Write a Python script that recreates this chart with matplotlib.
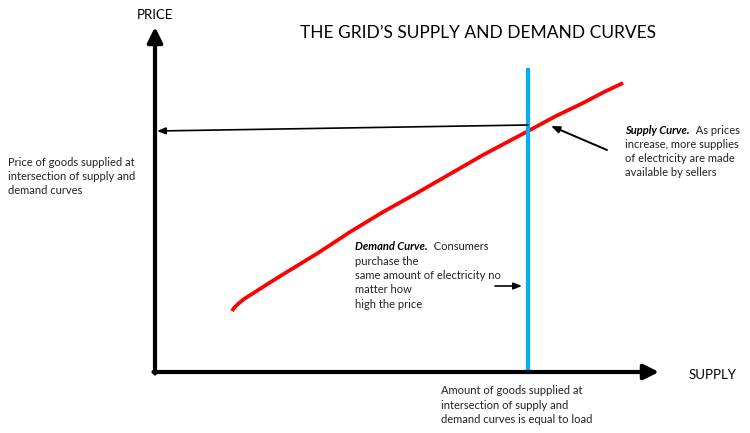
import numpy as np
import matplotlib
matplotlib.use("Agg")
import matplotlib.pyplot as plt

plt.rcParams['font.family'] = ['Lato', 'DejaVu Sans']

# supply curve, traced in picture units (x right, y down)
supply_x = [232, 234, 238, 244, 252, 266, 282, 300, 318, 350, 383, 417, 450, 483, 530, 556, 583, 604, 623]
supply_y = [311, 308, 304, 299, 294, 285, 275, 264, 253, 232, 212, 193, 174, 155, 130, 116, 103, 92, 83]

load_x = 528          # demand (vertical) line
load_top = 68
origin = (155, 372)

title = "THE GRID\u2019S SUPPLY AND DEMAND CURVES"
price_note = ["Price of goods supplied at", "intersection of supply and", "demand curves"]
supply_head = "Supply Curve."
supply_note = ["  As prices", "increase, more supplies", "of electricity are made", "available by sellers"]
demand_head = "Demand Curve."
demand_note = ["  Consumers", "purchase the", "same amount of electricity no", "matter how", "high the price"]
load_note = ["Amount of goods supplied at", "intersection of supply and", "demand curves is equal to load"]

fig = plt.figure(figsize=(7.5, 4.33), dpi=100)
ax = fig.add_axes([0, 0, 1, 1])
ax.set_xlim(0, 750)
ax.set_ylim(433, 0)
ax.axis('off')

# axes arrows
axis_style = dict(arrowstyle='-|>,head_length=0.5,head_width=0.25', lw=3, color='black',
                  shrinkA=0, shrinkB=0, mutation_scale=18)
ax.annotate('', xy=(origin[0], 27), xytext=(origin[0], origin[1] + 1.5), arrowprops=axis_style)
ax.annotate('', xy=(659, origin[1]), xytext=(origin[0] - 1.5, origin[1]), arrowprops=axis_style)

# curves
ax.plot(supply_x, supply_y, color='#ff0000', lw=2.7, solid_capstyle='butt', solid_joinstyle='round')
ax.plot([load_x, load_x], [load_top, origin[1]], color='#00b0f0', lw=3, solid_capstyle='butt')

# thin arrows
thin = dict(arrowstyle='-|>,head_length=0.5,head_width=0.2', lw=1.2, color='black',
            shrinkA=0, shrinkB=0, mutation_scale=10)
ax.annotate('', xy=(157, 131), xytext=(load_x, 125), arrowprops=thin)
ax.annotate('', xy=(551, 126), xytext=(607, 150), arrowprops=dict(thin, lw=1.4))
ax.annotate('', xy=(522, 286), xytext=(495, 286), arrowprops=thin)

# labels
ax.text(155, 15, "PRICE", ha='center', va='center', fontsize=9.5)
ax.text(713, 375, "SUPPLY", ha='center', va='center', fontsize=9.5)
ax.text(478, 33, title, ha='center', va='center', fontsize=12.5)

fs = 8
step = 14.3


def block(x, y0, lines, head=None):
    x1 = x
    if head is not None:
        t = ax.text(x, y0, head, fontsize=fs, fontweight='bold', fontstyle='italic', va='center')
        fig.canvas.draw()
        x1 = t.get_window_extent().x1
    for i, line in enumerate(lines):
        ax.text(x1 if i == 0 else x, y0 + i * step, line, fontsize=fs, va='center', color='#222222')


block(8, 162, price_note)
block(625, 130, supply_note, supply_head)
block(355, 247, demand_note, demand_head)
block(441, 391, load_note)

fig.savefig('out.png', dpi=100)
